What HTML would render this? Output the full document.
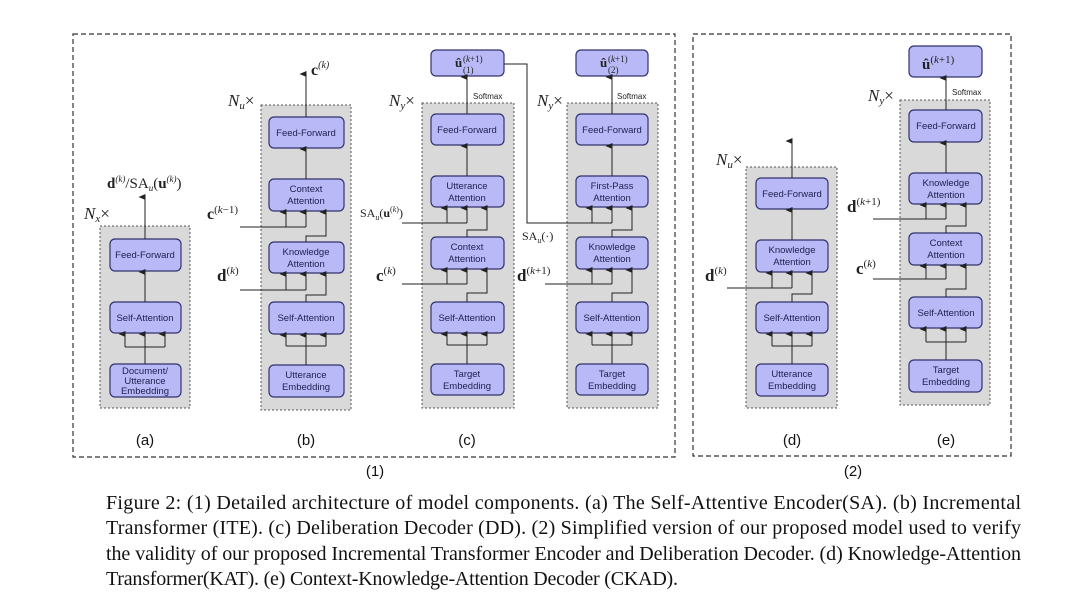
<!DOCTYPE html>
<html><head><meta charset="utf-8"><style>
html,body{margin:0;padding:0;background:#fff;width:1080px;height:593px;overflow:hidden}
svg{display:block}
.bt{font-family:"Liberation Sans",sans-serif;font-size:9.5px;fill:#1e1e50;text-anchor:middle}
.m{font-family:"Liberation Serif",serif;fill:#222}
.lab{font-family:"Liberation Sans",sans-serif;font-size:15px;fill:#111;text-anchor:middle}
.cap{font-family:"Liberation Serif",serif;font-size:20px;fill:#111}
</style></head><body>
<svg width="1080" height="593" viewBox="0 0 1080 593" xmlns="http://www.w3.org/2000/svg">
<defs>
<marker id="ah" markerWidth="7" markerHeight="7" refX="3.5" refY="6.5" orient="auto-start-reverse" markerUnits="userSpaceOnUse" viewBox="0 0 7 7">
<path d="M0.5,7 L3.5,0 L6.5,7 z" fill="#222"/></marker>
</defs>
<g fill="none" stroke="#333" stroke-width="1.2" stroke-dasharray="5,3">
<rect x="73" y="34" width="602" height="423"/>
<rect x="693" y="34" width="318" height="422"/>
</g>
<g fill="#d9d9d9" stroke="#555" stroke-width="1" stroke-dasharray="2,2">
<rect x="100" y="226" width="90" height="182"/>
<rect x="261" y="105" width="90" height="305"/>
<rect x="422" y="103" width="92" height="305"/>
<rect x="567" y="103" width="91" height="305"/>
<rect x="746" y="167" width="91" height="241"/>
<rect x="900" y="100" width="90" height="305"/>
</g>
<g fill="#b9b9f7" stroke="#33336e" stroke-width="1.2">
<rect x="110" y="239" width="71" height="32" rx="5"/>
<rect x="110" y="302" width="71" height="31" rx="5"/>
<rect x="110" y="364" width="71" height="33" rx="5"/>
<rect x="269" y="117" width="75" height="31" rx="5"/>
<rect x="269" y="179" width="75" height="32" rx="5"/>
<rect x="269" y="242" width="75" height="31" rx="5"/>
<rect x="269" y="302" width="75" height="32" rx="5"/>
<rect x="269" y="365" width="75" height="32" rx="5"/>
<rect x="431" y="50" width="73" height="26" rx="5"/>
<rect x="431" y="114" width="73" height="31" rx="5"/>
<rect x="431" y="176" width="73" height="31" rx="5"/>
<rect x="431" y="237" width="73" height="32" rx="5"/>
<rect x="431" y="302" width="73" height="31" rx="5"/>
<rect x="431" y="364" width="73" height="31" rx="5"/>
<rect x="576" y="50" width="72" height="26" rx="5"/>
<rect x="576" y="114" width="72" height="31" rx="5"/>
<rect x="576" y="176" width="72" height="31" rx="5"/>
<rect x="576" y="237" width="72" height="32" rx="5"/>
<rect x="576" y="302" width="72" height="31" rx="5"/>
<rect x="576" y="364" width="72" height="31" rx="5"/>
<rect x="756" y="178" width="72" height="31" rx="5"/>
<rect x="756" y="240" width="72" height="32" rx="5"/>
<rect x="756" y="302" width="72" height="31" rx="5"/>
<rect x="756" y="364" width="72" height="32" rx="5"/>
<rect x="909" y="46" width="73" height="31" rx="5"/>
<rect x="909" y="110" width="73" height="32" rx="5"/>
<rect x="909" y="173" width="73" height="31" rx="5"/>
<rect x="909" y="233" width="73" height="32" rx="5"/>
<rect x="909" y="297" width="73" height="31" rx="5"/>
<rect x="909" y="360" width="73" height="32" rx="5"/>
</g>
<g class="bt">
<text x="145" y="258">Feed-Forward</text>
<text x="145" y="321">Self-Attention</text>
<text x="145" y="374">Document/</text><text x="145" y="384">Utterance</text><text x="145" y="394">Embedding</text>
<text x="306" y="136">Feed-Forward</text>
<text x="306" y="192">Context</text><text x="306" y="204">Attention</text>
<text x="306" y="255">Knowledge</text><text x="306" y="267">Attention</text>
<text x="306" y="321">Self-Attention</text>
<text x="306" y="378">Utterance</text><text x="306" y="390">Embedding</text>
<text x="467" y="133">Feed-Forward</text>
<text x="467" y="189">Utterance</text><text x="467" y="201">Attention</text>
<text x="467" y="250">Context</text><text x="467" y="262">Attention</text>
<text x="467" y="321">Self-Attention</text>
<text x="467" y="377">Target</text><text x="467" y="389">Embedding</text>
<text x="612" y="133">Feed-Forward</text>
<text x="612" y="189">First-Pass</text><text x="612" y="201">Attention</text>
<text x="612" y="250">Knowledge</text><text x="612" y="262">Attention</text>
<text x="612" y="321">Self-Attention</text>
<text x="612" y="377">Target</text><text x="612" y="389">Embedding</text>
<text x="792" y="197">Feed-Forward</text>
<text x="792" y="253">Knowledge</text><text x="792" y="265">Attention</text>
<text x="792" y="321">Self-Attention</text>
<text x="792" y="377">Utterance</text><text x="792" y="389">Embedding</text>
<text x="946" y="129">Feed-Forward</text>
<text x="946" y="186">Knowledge</text><text x="946" y="198">Attention</text>
<text x="946" y="246">Context</text><text x="946" y="258">Attention</text>
<text x="946" y="316">Self-Attention</text>
<text x="946" y="373">Target</text><text x="946" y="385">Embedding</text>
</g>
<g fill="none" stroke="#222" stroke-width="1">
<path d="M145 239V197" marker-end="url(#ah)"/>
<path d="M145 302V272" marker-end="url(#ah)"/>
<path d="M145 364V334" marker-end="url(#ah)"/>
<path d="M125 347H165"/><path d="M125 347V334" marker-end="url(#ah)"/><path d="M165 347V334" marker-end="url(#ah)"/>
<path d="M306 117V74" marker-end="url(#ah)"/>
<path d="M306 179V149" marker-end="url(#ah)"/>
<path d="M240 227H306"/><path d="M286 227V212" marker-end="url(#ah)"/><path d="M306 227V212" marker-end="url(#ah)"/>
<path d="M306 242V236H326V212" marker-end="url(#ah)"/>
<path d="M240 290H306"/><path d="M286 290V274" marker-end="url(#ah)"/><path d="M306 290V274" marker-end="url(#ah)"/>
<path d="M306 302V295H326V274" marker-end="url(#ah)"/>
<path d="M306 365V346"/><path d="M286 346H326"/><path d="M286 346V335" marker-end="url(#ah)"/><path d="M306 346V335" marker-end="url(#ah)"/><path d="M326 346V335" marker-end="url(#ah)"/>
<path d="M467 114V77" marker-end="url(#ah)"/>
<path d="M467 176V146" marker-end="url(#ah)"/>
<path d="M402 223H467"/><path d="M447 223V208" marker-end="url(#ah)"/><path d="M467 223V208" marker-end="url(#ah)"/>
<path d="M467 237V230H487V208" marker-end="url(#ah)"/>
<path d="M402 284H467"/><path d="M447 284V270" marker-end="url(#ah)"/><path d="M467 284V270" marker-end="url(#ah)"/>
<path d="M467 302V293H487V270" marker-end="url(#ah)"/>
<path d="M467 364V345"/><path d="M447 345H487"/><path d="M447 345V334" marker-end="url(#ah)"/><path d="M467 345V334" marker-end="url(#ah)"/><path d="M487 345V334" marker-end="url(#ah)"/>
<path d="M612 114V77" marker-end="url(#ah)"/>
<path d="M612 176V146" marker-end="url(#ah)"/>
<path d="M504 64H527V223H612"/><path d="M592 223V208" marker-end="url(#ah)"/><path d="M612 223V208" marker-end="url(#ah)"/>
<path d="M612 237V230H632V208" marker-end="url(#ah)"/>
<path d="M545 284H612"/><path d="M592 284V270" marker-end="url(#ah)"/><path d="M612 284V270" marker-end="url(#ah)"/>
<path d="M612 302V293H632V270" marker-end="url(#ah)"/>
<path d="M612 364V345"/><path d="M592 345H632"/><path d="M592 345V334" marker-end="url(#ah)"/><path d="M612 345V334" marker-end="url(#ah)"/><path d="M632 345V334" marker-end="url(#ah)"/>
<path d="M792 178V141" marker-end="url(#ah)"/>
<path d="M792 240V210" marker-end="url(#ah)"/>
<path d="M727 288H792"/><path d="M772 288V273" marker-end="url(#ah)"/><path d="M792 288V273" marker-end="url(#ah)"/>
<path d="M792 302V294H812V273" marker-end="url(#ah)"/>
<path d="M792 364V346"/><path d="M772 346H812"/><path d="M772 346V334" marker-end="url(#ah)"/><path d="M792 346V334" marker-end="url(#ah)"/><path d="M812 346V334" marker-end="url(#ah)"/>
<path d="M946 110V78" marker-end="url(#ah)"/>
<path d="M946 173V143" marker-end="url(#ah)"/>
<path d="M873 219H946"/><path d="M926 219V205" marker-end="url(#ah)"/><path d="M946 219V205" marker-end="url(#ah)"/>
<path d="M946 233V226H966V205" marker-end="url(#ah)"/>
<path d="M873 279H946"/><path d="M926 279V266" marker-end="url(#ah)"/><path d="M946 279V266" marker-end="url(#ah)"/>
<path d="M946 297V289H966V266" marker-end="url(#ah)"/>
<path d="M946 360V342"/><path d="M926 342H966"/><path d="M926 342V329" marker-end="url(#ah)"/><path d="M946 342V329" marker-end="url(#ah)"/><path d="M966 342V329" marker-end="url(#ah)"/>
</g>
<g class="m" font-size="15">
<text x="107" y="188"><tspan font-weight="bold">d</tspan><tspan font-size="9" dy="-6" font-style="italic">(k)</tspan><tspan dy="6">/SA</tspan><tspan font-size="9" dy="3" font-style="italic">u</tspan><tspan dy="-3">(</tspan><tspan font-weight="bold">u</tspan><tspan font-size="9" dy="-6" font-style="italic">(k)</tspan><tspan dy="6">)</tspan></text>
<text x="84" y="219" font-size="17"><tspan font-style="italic">N</tspan><tspan font-size="11" dy="3" font-style="italic">x</tspan><tspan dy="-3">×</tspan></text>
<text x="228" y="106" font-size="17"><tspan font-style="italic">N</tspan><tspan font-size="11" dy="3" font-style="italic">u</tspan><tspan dy="-3">×</tspan></text>
<text x="311" y="75" font-size="16"><tspan font-weight="bold">c</tspan><tspan font-size="10" dy="-7" font-style="italic">(k)</tspan></text>
<text x="207" y="219" font-size="16"><tspan font-weight="bold">c</tspan><tspan font-size="11" dy="-6">(<tspan font-style="italic">k</tspan>−1)</tspan></text>
<text x="217" y="281" font-size="17"><tspan font-weight="bold">d</tspan><tspan font-size="11" dy="-7">(<tspan font-style="italic">k</tspan>)</tspan></text>
<text x="389" y="106" font-size="17"><tspan font-style="italic">N</tspan><tspan font-size="11" dy="3" font-style="italic">y</tspan><tspan dy="-3">×</tspan></text>
<text x="537" y="106" font-size="17"><tspan font-style="italic">N</tspan><tspan font-size="11" dy="3" font-style="italic">y</tspan><tspan dy="-3">×</tspan></text>
<text x="360" y="217" font-size="12">SA<tspan font-size="8" dy="3" font-style="italic">u</tspan><tspan dy="-3">(</tspan><tspan font-weight="bold">u</tspan><tspan font-size="8" dy="-5">(<tspan font-style="italic">k</tspan>)</tspan><tspan dy="5">)</tspan></text>
<text x="376" y="281" font-size="17"><tspan font-weight="bold">c</tspan><tspan font-size="11" dy="-7">(<tspan font-style="italic">k</tspan>)</tspan></text>
<text x="522" y="240" font-size="12">SA<tspan font-size="8" dy="3" font-style="italic">u</tspan><tspan dy="-3">(·)</tspan></text>
<text x="517" y="281" font-size="17"><tspan font-weight="bold">d</tspan><tspan font-size="11" dy="-7">(<tspan font-style="italic">k</tspan>+1)</tspan></text>
<text x="716" y="165" font-size="17"><tspan font-style="italic">N</tspan><tspan font-size="11" dy="3" font-style="italic">u</tspan><tspan dy="-3">×</tspan></text>
<text x="705" y="281" font-size="17"><tspan font-weight="bold">d</tspan><tspan font-size="11" dy="-7">(<tspan font-style="italic">k</tspan>)</tspan></text>
<text x="868" y="101" font-size="17"><tspan font-style="italic">N</tspan><tspan font-size="11" dy="3" font-style="italic">y</tspan><tspan dy="-3">×</tspan></text>
<text x="847" y="212" font-size="17"><tspan font-weight="bold">d</tspan><tspan font-size="11" dy="-7">(<tspan font-style="italic">k</tspan>+1)</tspan></text>
<text x="856" y="274" font-size="17"><tspan font-weight="bold">c</tspan><tspan font-size="11" dy="-7">(<tspan font-style="italic">k</tspan>)</tspan></text>
<text x="455" y="67" font-size="13" font-weight="bold">û</text>
<text x="463" y="62" font-size="9">(<tspan font-style="italic">k</tspan>+1)</text>
<text x="463" y="73" font-size="9">(1)</text>
<text x="600" y="67" font-size="13" font-weight="bold">û</text>
<text x="608" y="62" font-size="9">(<tspan font-style="italic">k</tspan>+1)</text>
<text x="608" y="73" font-size="9">(2)</text>
<text x="922" y="69" font-size="15"><tspan font-weight="bold">û</tspan><tspan font-size="11" dy="-6">(<tspan font-style="italic">k</tspan>+1)</tspan></text>
</g>
<g font-family="Liberation Sans, sans-serif" font-size="8" fill="#222">
<text x="473" y="99">Softmax</text>
<text x="617" y="99">Softmax</text>
<text x="952" y="95">Softmax</text>
</g>
<g class="lab">
<text x="145" y="445">(a)</text>
<text x="306" y="445">(b)</text>
<text x="467" y="445">(c)</text>
<text x="792" y="445">(d)</text>
<text x="946" y="445">(e)</text>
<text x="375" y="476">(1)</text>
<text x="853" y="476">(2)</text>
</g>
<g class="cap">
<text x="106" y="509" textLength="915" lengthAdjust="spacing">Figure 2: (1) Detailed architecture of model components. (a) The Self-Attentive Encoder(SA). (b) Incremental</text>
<text x="106" y="534" textLength="915" lengthAdjust="spacing">Transformer (ITE). (c) Deliberation Decoder (DD). (2) Simplified version of our proposed model used to verify</text>
<text x="106" y="560" textLength="915" lengthAdjust="spacing">the validity of our proposed Incremental Transformer Encoder and Deliberation Decoder. (d) Knowledge-Attention</text>
<text x="106" y="585" textLength="572" lengthAdjust="spacing">Transformer(KAT). (e) Context-Knowledge-Attention Decoder (CKAD).</text>
</g>
</svg>
</body></html>
